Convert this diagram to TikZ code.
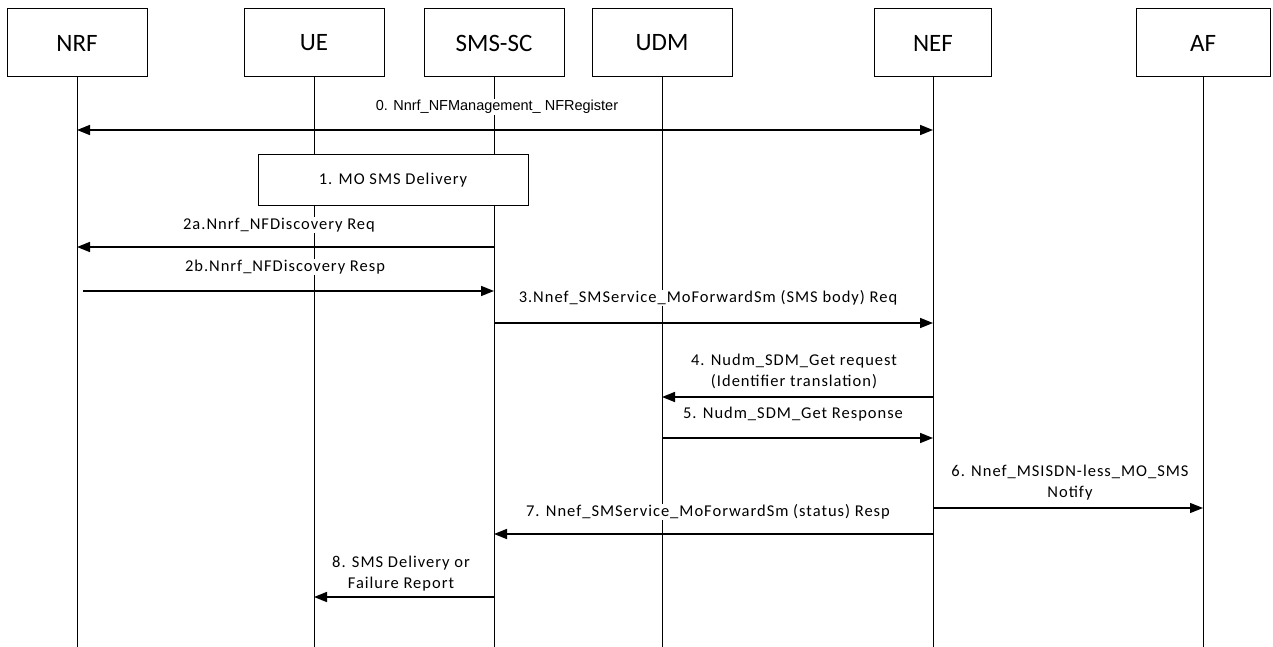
\documentclass[tikz,border=0pt]{standalone}
\usepackage{fontspec}
\setmainfont{Carlito}
\newfontfamily\msgfont{Carlito}[LetterSpace=6]
\newfontfamily\arialfont{Liberation Sans}
\usetikzlibrary{arrows.meta}

\begin{document}
\begin{tikzpicture}[x=1pt,y=-1pt,
    entity/.style={draw,line width=1pt,minimum height=68pt,inner sep=0pt,font=\fontsize{25}{30}\selectfont},
    life/.style={line width=1pt},
    msg/.style={line width=1.6pt,-{Triangle[length=13pt,width=10pt]}},
    lbl/.style={fill=white,inner sep=1pt,align=center,font=\msgfont\fontsize{16.5}{21}\selectfont}]
  \useasboundingbox (0,0) rectangle (1273,647);
  % entities
  \node[entity,minimum width=140pt] (nrf) at (77,43) {NRF};
  \node[entity,minimum width=140pt] (ue) at (314,43) {UE};
  \node[entity,minimum width=140pt] (smsc) at (494,43) {SMS-SC};
  \node[entity,minimum width=140pt] (udm) at (662,43) {UDM};
  \node[entity,minimum width=117pt] (nef) at (933,43) {NEF};
  \node[entity,minimum width=134pt] (af) at (1203,43) {AF};
  % lifelines
  \coordinate (bot) at (0,647);
  \foreach \n in {nrf,ue,smsc,udm,nef,af}
    \draw[life] (\n.south) -- (\n |- bot);
  % levels of the messages
  \coordinate (m0) at (0,130);
  \coordinate (m2a) at (0,247);
  \coordinate (m2b) at (0,291);
  \coordinate (m3) at (0,323);
  \coordinate (m4) at (0,397);
  \coordinate (m5) at (0,438);
  \coordinate (m6) at (0,508);
  \coordinate (m7) at (0,534);
  \coordinate (m8) at (0,597);
  % 0
  \draw[msg,{Triangle[length=13pt,width=10pt]}-{Triangle[length=13pt,width=10pt]}] (nrf |- m0) -- (nef |- m0);
  \node[lbl,font=\arialfont\fontsize{14.5}{17}\selectfont] (l0) at (497,107) {0. Nnrf\_NFManagement\_ NFRegister};
  % 1
  \node[draw,fill=white,line width=1pt,minimum width=270pt,minimum height=50pt,
    font=\msgfont\fontsize{16.5}{21}\selectfont] (step1) at (393,180) {1. MO SMS Delivery};
  % 2a, 2b
  \draw[msg] (smsc |- m2a) -- (nrf |- m2a);
  \node[lbl] (l2a) at (279,225) {2a.Nnrf\_NFDiscovery Req};
  \draw[msg,shorten <=6pt] (nrf |- m2b) -- (smsc |- m2b);
  \node[lbl] (l2b) at (285,267) {2b.Nnrf\_NFDiscovery Resp};
  % 3
  \draw[msg] (smsc |- m3) -- (nef |- m3);
  \node[lbl] (l3) at (708,298) {3.Nnef\_SMService\_MoForwardSm (SMS body) Req};
  % 4, 5
  \draw[msg] (nef |- m4) -- (udm |- m4);
  \node[lbl] (l4) at (794,371.5) {4. Nudm\_SDM\_Get request\\(Identifier translation)};
  \draw[msg] (udm |- m5) -- (nef |- m5);
  \node[lbl] (l5) at (793,414) {5. Nudm\_SDM\_Get Response};
  % 6
  \draw[msg,line width=1.3pt] (nef |- m6) -- (af |- m6);
  \node[lbl] (l6) at (1070,482.5) {6. Nnef\_MSISDN-less\_MO\_SMS\\Notify};
  % 7
  \draw[msg] (nef |- m7) -- (smsc |- m7);
  \node[lbl] (l7) at (708,512) {7. Nnef\_SMService\_MoForwardSm (status) Resp};
  % 8
  \draw[msg] (smsc |- m8) -- (ue |- m8);
  \node[lbl] (l8) at (401,574) {8. SMS Delivery or\\Failure Report};
\end{tikzpicture}
\end{document}
